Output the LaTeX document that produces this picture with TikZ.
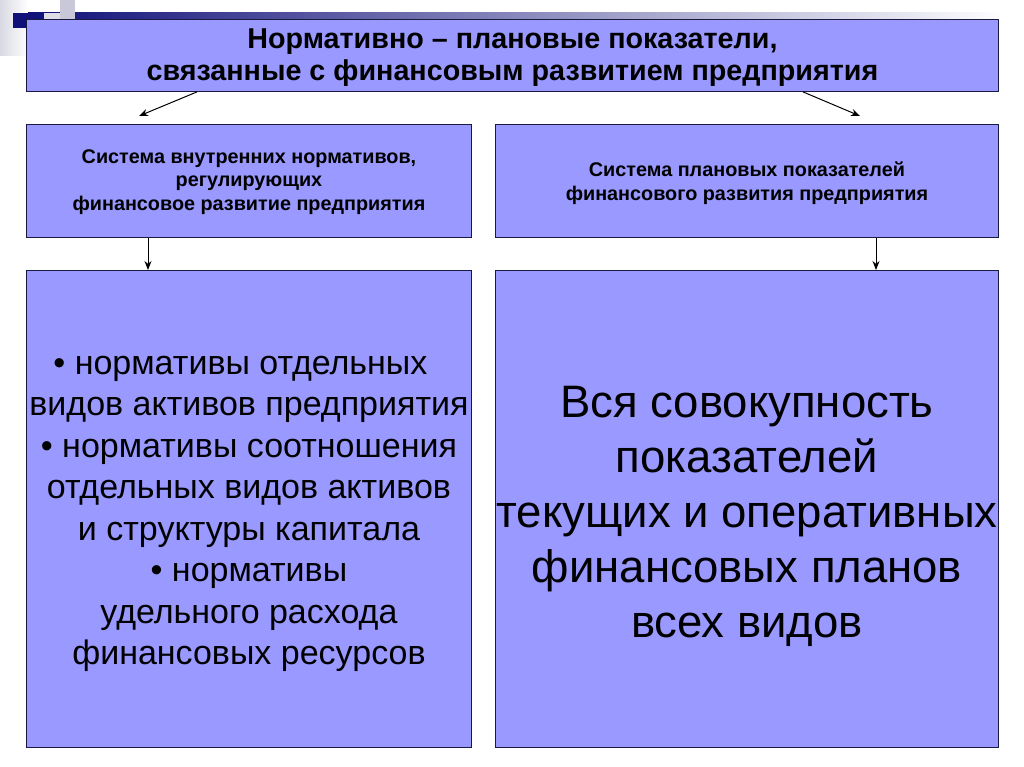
\documentclass[tikz,border=0pt]{standalone}
\usepackage{fontspec}
\setmainfont{Liberation Sans}
\usetikzlibrary{arrows.meta}
\definecolor{boxfill}{HTML}{9999FF}
\definecolor{boxline}{HTML}{1A1A40}
\definecolor{navy}{HTML}{10107A}
\definecolor{lgray}{HTML}{C8C8D8}
\begin{document}
\begin{tikzpicture}[x=1pt,y=-1pt,
  box/.style={draw=boxline, fill=boxfill, line width=0.9pt, inner sep=0pt, anchor=north west},
  conn/.style={-{Stealth[length=9pt,width=7pt]}, line width=1pt, black},
  headtext/.style={align=center, font={\bfseries\fontsize{28.7}{32}\selectfont}},
  midtext/.style={align=center, font={\bfseries\fontsize{19.8}{23.5}\selectfont}},
  listtext/.style={align=center, font={\fontsize{34}{41.5}\selectfont}},
  bigtext/.style={align=center, font={\fontsize{45.5}{55}\selectfont}}]
\useasboundingbox (0,0) rectangle (1024,767);
\fill[white] (0,0) rectangle (1024,767);
% decorations
\shade[left color=lgray!70, right color=white] (0,0) rectangle (28,56);
\shade[left color=navy, right color=white] (28,13) rectangle (1005,19);
\fill[lgray] (60,0) rectangle (75,19);
\fill[lgray!60] (44,13) rectangle (60,19);
\fill[navy] (13,13) rectangle (28,28);
% boxes
\node[box, minimum width=972pt, minimum height=72pt] (top) at (26,19) {};
\node[box, minimum width=445pt, minimum height=113pt] (ml) at (26,124) {};
\node[box, minimum width=503pt, minimum height=113pt] (mr) at (495,124) {};
\node[box, minimum width=445pt, minimum height=477pt] (bl) at (26,270) {};
\node[box, minimum width=503pt, minimum height=477pt] (br) at (495,270) {};
% texts
\node[headtext] (toptext) at ([yshift=-2pt]top.center) {Нормативно – плановые показатели,\\связанные с финансовым развитием предприятия};
\node[midtext] (mltext) at ([yshift=-1pt]ml.center) {Система внутренних нормативов,\\регулирующих\\финансовое развитие предприятия};
\node[midtext] (mrtext) at ([yshift=-2pt]mr.center) {Система плановых показателей\\финансового развития предприятия};
\node[listtext] (bltext) at ([yshift=-5pt]bl.center) {• нормативы отдельных\hspace*{17pt}\\видов активов предприятия\\• нормативы соотношения\hspace*{17pt}\\отдельных видов активов\\и структуры капитала\\• нормативы\\удельного расхода\\финансовых ресурсов};
\node[bigtext] (brtext) at ([yshift=-7.5pt]br.center) {Вся совокупность\\показателей\\текущих и оперативных\\финансовых планов\\всех видов};
% connectors
\coordinate (al) at (139,116);
\coordinate (ar) at (860,116);
\draw[conn] (top.south -| 197,0) -- (al);
\draw[conn] (top.south -| 803,0) -- (ar);
\draw[conn] (ml.south -| 148,0) -- (bl.north -| 148,0);
\draw[conn] (mr.south -| 876,0) -- (br.north -| 876,0);
\end{tikzpicture}
\end{document}
